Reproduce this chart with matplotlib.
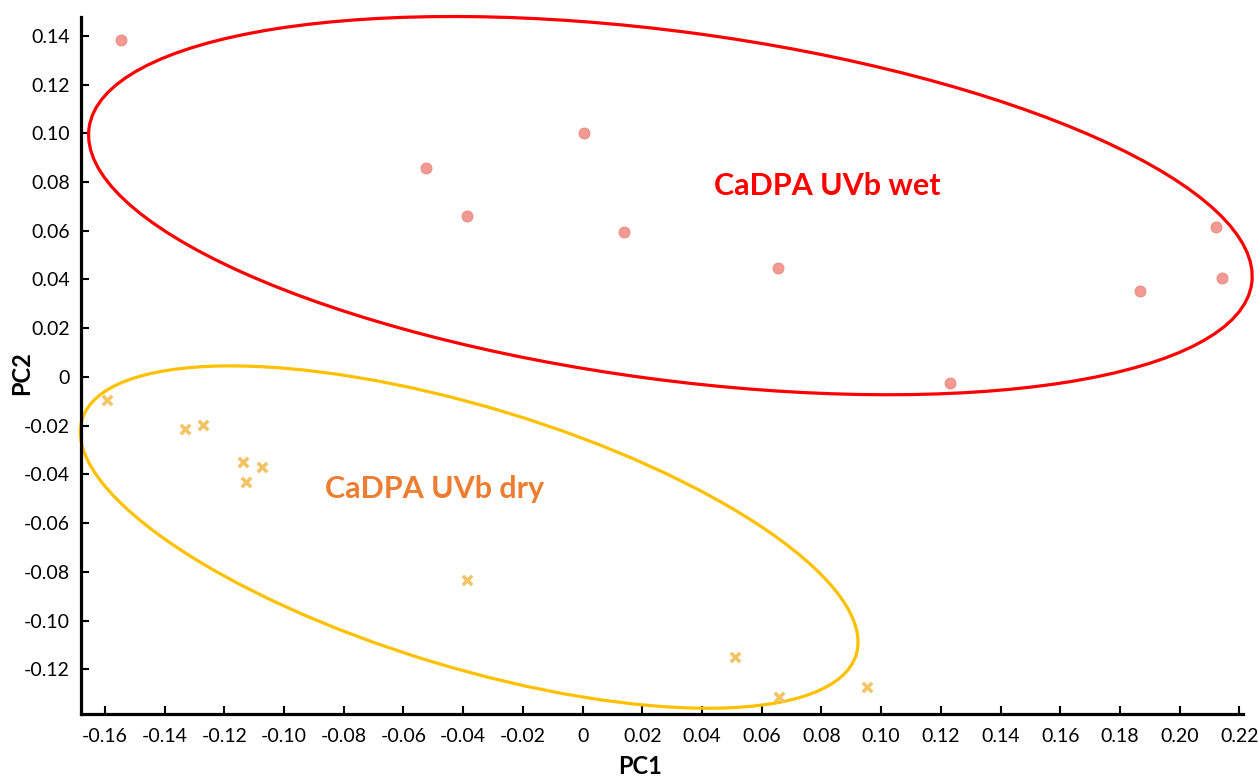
import numpy as np
import matplotlib
matplotlib.use("Agg")
import matplotlib.pyplot as plt
import matplotlib.transforms as transforms
from matplotlib.patches import Ellipse
from matplotlib.ticker import FuncFormatter

plt.rcParams['font.family'] = ['Lato', 'DejaVu Sans']
plt.rcParams['axes.unicode_minus'] = False

# PCA scores
wet_pc1 = [-0.1545, -0.0524, 0.0006, -0.0387, 0.0140, 0.0656, 0.1229, 0.1866, 0.2120, 0.2140]
wet_pc2 = [0.1384, 0.0859, 0.1002, 0.0662, 0.0596, 0.0448, -0.0023, 0.0354, 0.0617, 0.0407]

dry_pc1 = [-0.1594, -0.1332, -0.1271, -0.1136, -0.1075, -0.1128, -0.0386, 0.0512, 0.0659, 0.0953]
dry_pc2 = [-0.0096, -0.0213, -0.0199, -0.0349, -0.0371, -0.0431, -0.0832, -0.1151, -0.1313, -0.1274]

# group ellipses: centre (data), full width / height (inches on the page), angle
wet_ell = dict(center=(0.0294, 0.0703), width=11.73, height=3.48, angle=-7.6)
dry_ell = dict(center=(-0.0380, -0.0657), width=8.09, height=2.60, angle=-16.9)

x_ticks = np.round(np.arange(-0.16, 0.2201, 0.02), 2)
y_ticks = np.round(np.arange(-0.12, 0.1401, 0.02), 2)

fig = plt.figure(figsize=(12.58, 7.76), dpi=100)
ax = fig.add_axes([0.0644, 0.0799, 0.9237, 0.8982])

ax.scatter(wet_pc1, wet_pc2, s=60, marker='o', facecolor='#F29A91',
           edgecolor='#EC8C82', linewidth=0.8, zorder=3, clip_on=False)
ax.scatter(dry_pc1, dry_pc2, s=45, marker='x', color='#F3C466',
           linewidth=2.6, zorder=3, clip_on=False)

ax.set_xlim(-0.168, 0.2212)
ax.set_ylim(-0.1383, 0.1477)

for ell, col in [(wet_ell, '#FF0000'), (dry_ell, '#FFC000')]:
    tr = fig.dpi_scale_trans + transforms.ScaledTranslation(*ell['center'], ax.transData)
    e = Ellipse((0, 0), ell['width'], ell['height'], angle=ell['angle'],
                fill=False, edgecolor=col, linewidth=2.3, transform=tr, clip_on=False, zorder=2)
    ax.add_patch(e)

ax.text(0.0821, 0.0785, 'CaDPA UVb wet', color='#FF0000', fontsize=22,
        fontweight='bold', ha='center', va='center')
ax.text(-0.0497, -0.0458, 'CaDPA UVb dry', color='#ED7D31', fontsize=22,
        fontweight='bold', ha='center', va='center')

fmt = FuncFormatter(lambda v, p: '0' if abs(v) < 1e-9 else f'{v:.2f}')
ax.set_xticks(x_ticks)
ax.set_yticks(y_ticks)
ax.xaxis.set_major_formatter(fmt)
ax.yaxis.set_major_formatter(fmt)
ax.tick_params(direction='in', length=5.5, width=1.5, labelsize=14, color='black')
ax.tick_params(axis='x', pad=10)
ax.tick_params(axis='y', pad=8)

for s in ['top', 'right']:
    ax.spines[s].set_visible(False)
for s in ['left', 'bottom']:
    ax.spines[s].set_linewidth(2.3)

fig.text(640 / 1258, 1 - 766 / 776, 'PC1', fontsize=17, fontweight='bold', ha='center', va='center')
fig.text(22 / 1258, 1 - 373 / 776, 'PC2', fontsize=17, fontweight='bold', ha='center', va='center',
         rotation=90)

fig.savefig('out.png', dpi=100)
